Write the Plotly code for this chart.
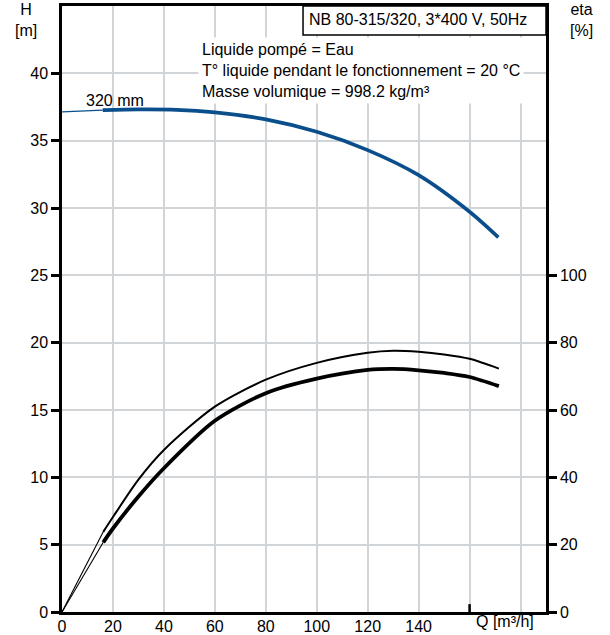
import plotly.graph_objects as go

# ---- data ----
q_head = [0, 16, 30, 45, 60, 80, 100, 120, 140, 160, 171.3]
head = [37.14, 37.27, 37.32, 37.29, 37.1, 36.58, 35.66, 34.3, 32.44, 29.72, 27.82]

q_eta = [0, 16.2, 20, 30, 40, 60, 80, 100, 120, 130, 140, 150, 160, 171.5]
eta_pump = [0, 23.8, 28.2, 39.3, 48.1, 61.0, 69.0, 74.0, 77.0, 77.6, 77.3, 76.5, 75.2, 72.3]
eta_total = [0, 20.7, 24.8, 34.3, 42.7, 56.8, 65.0, 69.3, 71.9, 72.2, 71.8, 71.0, 69.8, 67.1]

x_ticks = [0, 20, 40, 60, 80, 100, 120, 140, 160, 180]
x_tick_text = ["0", "20", "40", "60", "80", "100", "120", "140", "", ""]
h_ticks = [0, 5, 10, 15, 20, 25, 30, 35, 40]
eta_ticks = [0, 20, 40, 60, 80, 100]

curve_label = "320 mm"
title_text = "NB 80-315/320, 3*400 V, 50Hz"
info_lines = ["Liquide pompé = Eau",
              "T° liquide pendant le fonctionnement = 20 °C",
              "Masse volumique = 998.2 kg/m³"]

BLUE = "#0a4f8c"
GRID = "#d2d5d8"
FONT = "Liberation Sans, Arial, sans-serif"

fig = go.Figure()

# head curve: thin start, thick main part
fig.add_trace(go.Scatter(x=q_head[:2], y=head[:2], mode="lines",
                         line=dict(color=BLUE, width=1.2), hoverinfo="skip"))
fig.add_trace(go.Scatter(x=q_head[1:], y=head[1:], mode="lines",
                         line=dict(color=BLUE, width=3.6, shape="spline", smoothing=0.8),
                         hoverinfo="skip"))

# efficiency curves (on right axis)
fig.add_trace(go.Scatter(x=q_eta[:2], y=eta_pump[:2], mode="lines", yaxis="y2",
                         line=dict(color="black", width=1.1), hoverinfo="skip"))
fig.add_trace(go.Scatter(x=q_eta[1:], y=eta_pump[1:], mode="lines", yaxis="y2",
                         line=dict(color="black", width=2.0, shape="spline", smoothing=0.8),
                         hoverinfo="skip"))
fig.add_trace(go.Scatter(x=q_eta[:2], y=eta_total[:2], mode="lines", yaxis="y2",
                         line=dict(color="black", width=1.1), hoverinfo="skip"))
fig.add_trace(go.Scatter(x=q_eta[1:], y=eta_total[1:], mode="lines", yaxis="y2",
                         line=dict(color="black", width=3.8, shape="spline", smoothing=0.8),
                         hoverinfo="skip"))

fig.update_layout(
    width=610, height=635,
    margin=dict(l=62, r=64, t=6, b=23, pad=0, autoexpand=False),
    paper_bgcolor="white", plot_bgcolor="white",
    showlegend=False,
    font=dict(family=FONT, size=16, color="black"),
    xaxis=dict(range=[0, 190], tickvals=x_ticks, ticktext=x_tick_text,
               showgrid=True, gridcolor=GRID, gridwidth=2,
               showline=True, linecolor="black", linewidth=2.5, mirror=True,
               ticks="", zeroline=False, tickfont=dict(size=16), automargin=False,
               ticklabelstandoff=-2),
    yaxis=dict(range=[0, 45], tickvals=h_ticks,
               showgrid=True, gridcolor=GRID, gridwidth=2,
               showline=True, linecolor="black", linewidth=2.5, mirror=True,
               ticks="outside", ticklen=8, tickwidth=2.5, tickcolor="black",
               zeroline=False, tickfont=dict(size=16), automargin=False),
    yaxis2=dict(range=[0, 180], tickvals=eta_ticks, overlaying="y", side="right",
                showgrid=False, showline=True, linecolor="black", linewidth=2.5,
                ticks="outside", ticklen=8, tickwidth=2.5, tickcolor="black",
                zeroline=False, tickfont=dict(size=16), automargin=False),
)

# title box
fig.add_shape(type="rect", xref="paper", yref="paper", x0=0.498, x1=1.0, y0=0.952, y1=1.0,
              line=dict(color="black", width=1.5), fillcolor="white", layer="above")
fig.add_annotation(text=title_text, xref="paper", yref="paper", x=0.506, y=0.9775,
                   xanchor="left", yanchor="middle", showarrow=False,
                   font=dict(size=16, family=FONT))

# info block with white background
fig.add_annotation(text="<br>".join(info_lines), xref="paper", yref="paper",
                   x=0.282, y=0.9495, xanchor="left", yanchor="top", align="left",
                   showarrow=False, bgcolor="white", borderpad=3,
                   font=dict(size=16, family=FONT))

# curve label
fig.add_annotation(text=curve_label, xref="x", yref="y", x=20.8, y=38.0,
                   showarrow=False, font=dict(size=16, family=FONT))

# axis titles
fig.add_annotation(text="H<br>[m]", xref="paper", yref="paper", x=-0.074, y=0.977,
                   xanchor="center", yanchor="middle", showarrow=False,
                   font=dict(size=16, family=FONT))
fig.add_annotation(text="eta<br>[%]", xref="paper", yref="paper", x=1.074, y=0.977,
                   xanchor="center", yanchor="middle", showarrow=False,
                   font=dict(size=16, family=FONT))

# Q axis label next to the 160 tick
fig.add_shape(type="line", xref="x", yref="paper", x0=160, x1=160, y0=0, y1=0.013,
              line=dict(color="black", width=2.5))
fig.add_annotation(text="Q [m³/h]", xref="x", yref="paper", x=160, y=0,
                   xanchor="left", yanchor="top", xshift=4, yshift=1, showarrow=False,
                   font=dict(size=16, family=FONT))

fig.write_html("out.html", config={"displayModeBar": False},
               post_script="document.body.style.margin='0';document.body.style.overflow='hidden';")
